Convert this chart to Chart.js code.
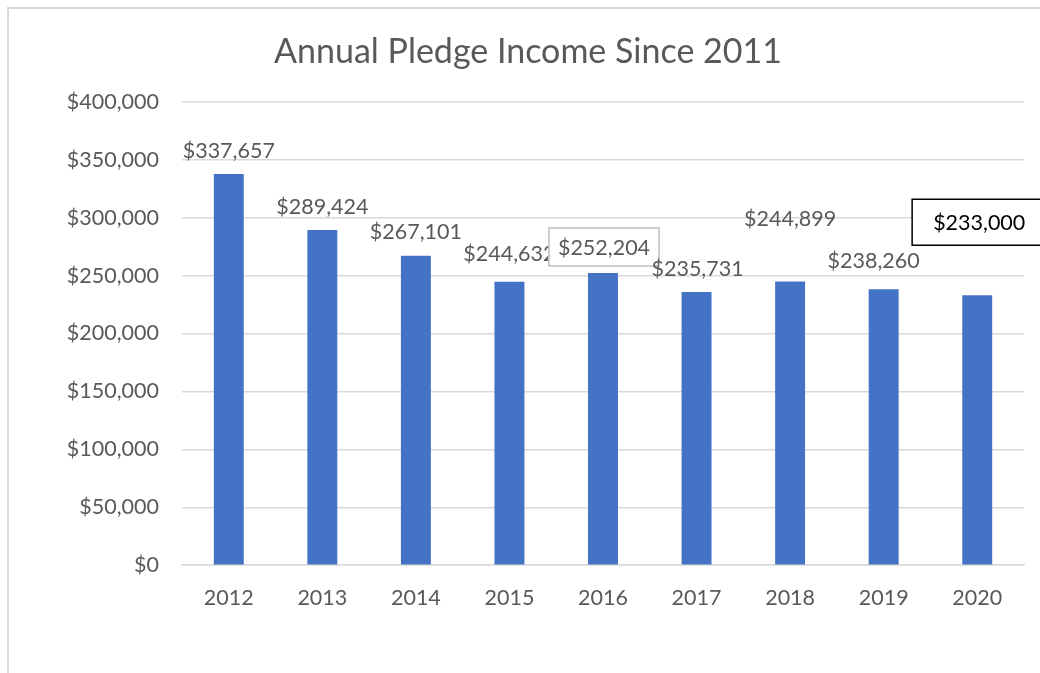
<!DOCTYPE html>
<html>
<head>
<meta charset="utf-8">
<script src="https://cdn.jsdelivr.net/npm/chart.js@4/dist/chart.umd.min.js"></script>
<style>
  html, body { margin: 0; padding: 0; background: #ffffff; overflow: hidden; }
  #wrap { width: 1040px; height: 673px; position: relative; overflow: hidden; }
  canvas { display: block; }
</style>
</head>
<body>
<div id="wrap"><canvas id="c" width="1040" height="673"></canvas></div>
<script>
const years = ['2012', '2013', '2014', '2015', '2016', '2017', '2018', '2019', '2020'];
const pledgeIncome = [337657, 289424, 267101, 244632, 252204, 235731, 244899, 238260, 233000];
const yTicks = [0, 50000, 100000, 150000, 200000, 250000, 300000, 350000, 400000];

// label placement (pixel offsets from bar top, as in the hand-moved Excel labels)
const labelStyle = {
  dx: [0, 0, 0, 0, 1, 1, 0, -10, 2],
  dy: [-24, -24, -25, -29, -26, -24, -63, -29, -73],
  box: [null, null, null, null, {stroke: '#bfbfbf', padL: 9, padR: 9, h: 38},
        null, null, null, {stroke: '#000000', padL: 21, padR: 60, h: 46}],
  color: ['#595959','#595959','#595959','#595959','#595959','#595959','#595959','#595959','#000000']
};

const fmt = v => '$' + v.toLocaleString('en-US');
const FONT = 'Lato, "Open Sans", sans-serif';
const FS = 21.5;

const frame = {
  id: 'frame',
  beforeDraw(chart) {
    const ctx = chart.ctx;
    ctx.save();
    ctx.fillStyle = '#ffffff';
    ctx.fillRect(0, 0, chart.width, chart.height);
    ctx.strokeStyle = '#d9d9d9';
    ctx.lineWidth = 2;
    ctx.beginPath();
    ctx.moveTo(chart.width + 5, 8);
    ctx.lineTo(8, 8);
    ctx.lineTo(8, chart.height + 5);
    ctx.stroke();
    ctx.restore();
  }
};

const labels = {
  id: 'labels',
  afterDatasetsDraw(chart) {
    const ctx = chart.ctx;
    const meta = chart.getDatasetMeta(0);
    ctx.save();
    ctx.font = FS + 'px ' + FONT;
    ctx.textAlign = 'center';
    ctx.textBaseline = 'middle';
    meta.data.forEach((bar, i) => {
      const text = fmt(pledgeIncome[i]);
      const x = bar.x + labelStyle.dx[i];
      const y = bar.y + labelStyle.dy[i];
      const b = labelStyle.box[i];
      if (b) {
        const tw = ctx.measureText(text).width;
        const left = x - tw / 2 - b.padL;
        const right = Math.min(x + tw / 2 + b.padR, chart.width + 5);
        const top = y - b.h / 2, bottom = y + b.h / 2;
        ctx.fillStyle = '#ffffff';
        ctx.fillRect(left, top, right - left, b.h);
        ctx.strokeStyle = b.stroke;
        ctx.lineWidth = 1.5;
        ctx.beginPath();
        ctx.moveTo(right, top);
        ctx.lineTo(left, top);
        ctx.lineTo(left, bottom);
        ctx.lineTo(right, bottom);
        if (right < chart.width) ctx.closePath();
        ctx.stroke();
      }
      ctx.fillStyle = labelStyle.color[i];
      ctx.fillText(text, x, y + 1);
    });
    ctx.restore();
  }
};

new Chart(document.getElementById('c'), {
  type: 'bar',
  data: {
    labels: years,
    datasets: [{
      data: pledgeIncome,
      backgroundColor: '#4472C4',
      borderWidth: 0,
      categoryPercentage: 1,
      barPercentage: 0.32
    }]
  },
  options: {
    responsive: false,
    animation: false,
    devicePixelRatio: 1,
    layout: { padding: { left: 32, right: 16, top: 0, bottom: 42 } },
    plugins: {
      legend: { display: false },
      tooltip: { enabled: false },
      title: {
        display: true,
        text: 'Annual Pledge Income Since 2011',
        color: '#595959',
        font: { family: FONT, size: 34, weight: 'normal', lineHeight: 1.2 },
        padding: { top: 32, bottom: 29 }
      }
    },
    scales: {
      x: {
        grid: { display: false, drawTicks: false },
        border: { display: true, color: '#d9d9d9', width: 1.5 },
        ticks: { color: '#595959', font: { family: FONT, size: FS }, padding: 20 }
      },
      y: {
        min: 0,
        max: 400000,
        afterBuildTicks(scale) { scale.ticks = yTicks.map(v => ({ value: v })); },
        afterFit(scale) { scale.width = 150; },
        grid: { color: '#d9d9d9', lineWidth: 1.5, drawTicks: false },
        border: { display: false },
        ticks: {
          color: '#595959',
          font: { family: FONT, size: FS },
          padding: 23,
          callback: v => fmt(v)
        }
      }
    }
  },
  plugins: [frame, labels]
});
</script>
</body>
</html>
